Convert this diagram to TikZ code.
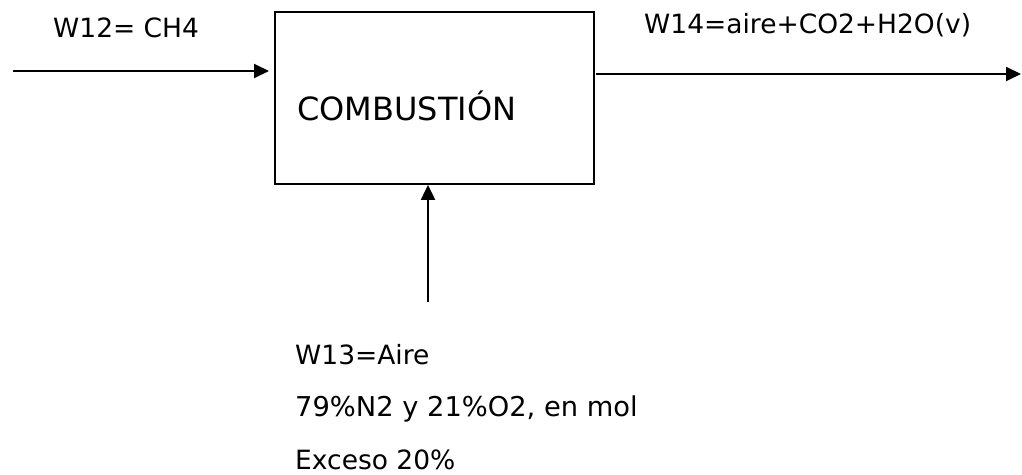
\documentclass[tikz,border=0pt]{standalone}
\usepackage{fontspec}
\setmainfont{DejaVu Sans}
\usetikzlibrary{arrows.meta}
\begin{document}
\begin{tikzpicture}[x=1pt,y=-1pt,
  lbl/.style={anchor=base west,inner sep=0pt,font=\fontsize{26.5}{30}\selectfont},
  bigl/.style={anchor=base west,inner sep=0pt,font=\fontsize{32}{36}\selectfont},
  procbox/.style={draw,line width=1.8pt,minimum width=319pt,minimum height=172pt,inner sep=0pt},
  flow/.style={line width=2pt,-{Triangle[length=15pt,width=14pt]}}]
\useasboundingbox (0,0) rectangle (1022,474);
\node[procbox] (comb) at (434.5,98) {};
\node[bigl] (combtxt) at (297,120) {COMBUSTIÓN};
\node[lbl] (w12) at (53,37) {W12= CH4};
\node[lbl] (w14) at (644,33) {W14=aire+CO2+H2O(v)};
\node[lbl] (w13a) at (295,364) {W13=Aire};
\node[lbl,font=\fontsize{27.3}{30}\selectfont] (w13b) at (295,416) {79\%N2 y 21\%O2, en mol};
\node[lbl] (w13c) at (295,469) {Exceso 20\%};
\coordinate (in12) at (13,71);
\coordinate (in12end) at (269,71);
\coordinate (out14s) at (596,74);
\coordinate (out14) at (1021,74);
\coordinate (in13) at (428,302);
\draw[flow] (in12) -- (in12end);
\draw[flow] (out14s) -- (out14);
\draw[flow] (in13) -- (in13 |- comb.south);
\end{tikzpicture}
\end{document}
